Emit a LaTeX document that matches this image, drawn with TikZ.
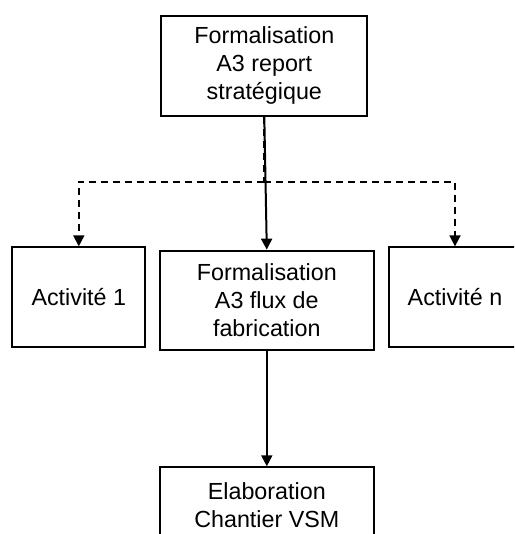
\documentclass[tikz,border=0pt]{standalone}
\usepackage{fontspec}
\setmainfont{Liberation Sans}
\usetikzlibrary{arrows.meta}
\begin{document}
\begin{tikzpicture}[x=1pt,y=-1pt,
  box/.style={draw=black,line width=2pt,rectangle,align=center,inner sep=0pt,
    font=\fontsize{23.3}{28}\selectfont},
  link/.style={line width=2pt,-{Triangle[width=11pt,length=11pt]}},
  dlink/.style={line width=1.8pt,dash pattern=on 7pt off 5pt,-{Triangle[width=11pt,length=11pt]}}]
\useasboundingbox (0,0) rectangle (514,534);
\clip (0,0) rectangle (514,534);
\fill[white] (0,0) rectangle (514,534);
\node[box,minimum width=206pt,minimum height=100pt] (top) at (264.3,65.7) {Formalisation\\A3 report\\stratégique};
\node[box,minimum width=214.3pt,minimum height=99.3pt] (mid) at (266.8,300.3) {Formalisation\\A3 flux de\\fabrication};
\node[box,minimum width=133pt,minimum height=99.7pt] (act1) at (78.8,297.2) {Activité 1};
\node[box,minimum width=133pt,minimum height=99.7pt] (actn) at (455,297.2) {Activité n};
\node[box,minimum width=214.3pt,minimum height=75.4pt] (elab) at (266.8,505) {Elaboration\\Chantier VSM};
\coordinate (j) at (264.3,181.7);
\draw[line width=1.8pt,dash pattern=on 7pt off 5pt] (top.south) -- (j);
\draw[dlink] (j) -| (act1.north);
\draw[dlink] (j) -| (actn.north);
\draw[link] (top.south) -- (mid.north);
\draw[link] (mid.south) -- (elab.north);
\end{tikzpicture}
\end{document}
